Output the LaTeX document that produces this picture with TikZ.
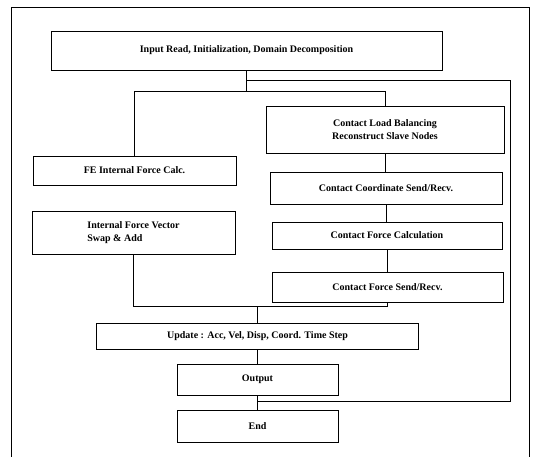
\documentclass[tikz,border=0pt]{standalone}
\usepackage{fontspec}
\setmainfont{Liberation Serif}
\usepackage{tikz}
\usetikzlibrary{positioning, calc}
\tikzset{
  stepbox/.style={rectangle,draw=black,line width=0.9pt,align=center,font=\fontsize{10}{12.5}\selectfont\bfseries,inner sep=2pt},
  link/.style={draw=black,line width=0.8pt},
  frame/.style={draw=black,line width=0.9pt}
}

\begin{document}
\begin{tikzpicture}[x=1pt,y=-1pt]
  \useasboundingbox (0,0) rectangle (536,457);
  \draw[frame] (11,457) -- (11,7) -- (529,7) -- (529,457);

  \node[stepbox,minimum width=391pt,minimum height=39pt] (init) at (246.5,50.5) {Input Read, Initialization, Domain Decomposition};
  \node[stepbox,minimum width=238pt,minimum height=47pt] (clb) at (385,129.5) {Contact Load Balancing\\Reconstruct Slave Nodes};
  \node[stepbox,minimum width=203pt,minimum height=29pt] (fe) at (134.5,170.5) {FE Internal Force Calc.};
  \node[stepbox,minimum width=203pt,minimum height=43pt,align=left] (ifv) at (133.5,232.5) {Internal Force Vector\\Swap \& Add};
  \node[stepbox,minimum width=232pt,minimum height=32pt] (ccs) at (386,188) {Contact Coordinate Send/Recv.};
  \node[stepbox,minimum width=230pt,minimum height=27pt] (cfc) at (387,235.5) {Contact Force Calculation};
  \node[stepbox,minimum width=231pt,minimum height=30pt] (cfs) at (387.5,287) {Contact Force Send/Recv.};
  \node[stepbox,minimum width=322pt,minimum height=26pt] (upd) at (257.5,336) {Update : Acc, Vel, Disp, Coord. Time Step};
  \node[stepbox,minimum width=161pt,minimum height=31pt] (out) at (257.5,379.5) {Output};
  \node[stepbox,minimum width=161pt,minimum height=32pt] (end) at (257.5,426) {End};

  \coordinate (split) at ([yshift=-21pt]init.south);
  \coordinate (loopturn) at ([xshift=263.5pt,yshift=-10pt]init.south);
  \coordinate (merge) at ([yshift=16pt]upd.north);

  \draw[link] (init.south) -- (split);
  \draw[link] (fe.north) |- (clb.north |- split) -- (clb.north);
  \draw[link] (clb.south) -- (clb.south |- ccs.north);
  \draw[link] (ccs.south) -- (ccs.south |- cfc.north);
  \draw[link] (cfc.south) -- (cfc.south |- cfs.north);
  \draw[link] (ifv.south) |- (cfs.south |- merge) -- (cfs.south);
  \draw[link] (merge) -- (upd.north);
  \draw[link] (upd.south) -- (out.north);
  \draw[link] (out.south) -- (end.north);
  \draw[link] ($(out.south)!0.45!(end.north)$) -| (loopturn) -- (init.south |- loopturn);
\end{tikzpicture}
\end{document}
